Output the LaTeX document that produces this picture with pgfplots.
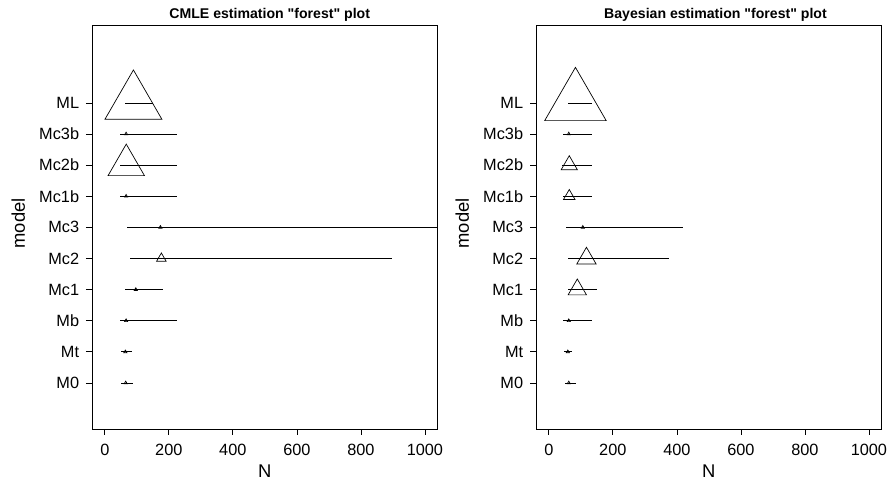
\documentclass[border=0pt]{standalone}
\usepackage{fontspec}
\setmainfont{Liberation Sans}
\usepackage{pgfplots}
\usepackage{pgfplotstable}
\pgfplotsset{compat=1.18}

% y: model position, lo/hi: interval, est: estimate, r: triangle size
\pgfplotstableread{
y lo est hi r
10 63.4 89.4 149.9 32.9
9 47.8 66.5 224.8 1.8
8 47.8 67.0 224.8 21.0
7 47.8 66.5 224.8 1.8
6 68.7 173.7 1100 1.8
5 77.9 176.7 896.2 5.5
4 63.4 96.8 181.1 1.8
3 47.8 66.5 224.8 1.8
2 50.9 64.2 85.2 1.8
1 50.9 65.3 87.3 1.8
}\cmle

\pgfplotstableread{
y lo est hi r
10 59.4 83.2 134.4 35.5
9 45.7 62.4 136.3 1.8
8 40.6 63.9 136.3 9.4
7 45.7 63.9 136.3 6.7
6 53.1 106.2 419.7 1.8
5 59.4 117.6 375.0 11.2
4 59.4 89.0 151.6 10.6
3 45.7 62.4 136.3 1.8
2 48.9 59.4 72.8 1.8
1 52.1 62.4 84.4 1.8
}\bayes

\pgfplotsset{forest/.style={
  scale only axis, width=345.7pt, height=403.3pt,
  xmin=-40, xmax=1040, ymin=-0.48, ymax=12.48,
  xtick={0,200,...,1000}, ytick={1,...,10},
  yticklabels={M0,Mt,Mb,Mc1,Mc2,Mc3,Mc1b,Mc2b,Mc3b,ML},
  xtick pos=left, ytick pos=left, tick align=outside, major tick length=6pt,
  tick style={black, line width=0.7pt},
  axis line style={line width=0.8pt},
  ticklabel style={font=\fontsize{16.3}{18}\selectfont},
  /pgf/number format/assume math mode=true,
  /pgf/number format/1000 sep={},
  xticklabel style={inner sep=0pt, yshift=-9pt},
  yticklabel style={inner sep=0pt, xshift=-6.7pt},
  xlabel={N}, ylabel={model},
  label style={font=\fontsize{18.4}{20}\selectfont},
  xlabel style={at={(axis description cs:0.5,0)}, anchor=north, inner sep=0pt, yshift=-36pt},
  ylabel style={at={(axis description cs:-0.213,0.51)}, anchor=center, inner sep=0pt},
}}

\begin{document}
\begin{tikzpicture}
\path[use as bounding box] (0,0) rectangle (893pt,484pt);

\begin{axis}[forest, at={(92pt,55pt)}, anchor=south west]
\addplot[draw=none, mark=none, forget plot,
  error bars/.cd, x dir=both, x explicit, error mark=none,
  error bar style={draw=black, line width=0.7pt, solid}]
  table[x=est, y=y, x error plus expr=\thisrow{hi}-\thisrow{est}, x error minus expr=\thisrow{est}-\thisrow{lo}] {\cmle};
\addplot[black, only marks, mark=triangle, line width=0.7pt,
  scatter, point meta=explicit,
  visualization depends on={\thisrow{r} \as \rsize},
  scatter/@pre marker code/.code={\scope[mark size=\rsize]},
  scatter/@post marker code/.code={\endscope}]
  table[x=est, y=y, meta=r] {\cmle};
\end{axis}

\begin{axis}[forest, at={(536pt,55pt)}, anchor=south west]
\addplot[draw=none, mark=none, forget plot,
  error bars/.cd, x dir=both, x explicit, error mark=none,
  error bar style={draw=black, line width=0.7pt, solid}]
  table[x=est, y=y, x error plus expr=\thisrow{hi}-\thisrow{est}, x error minus expr=\thisrow{est}-\thisrow{lo}] {\bayes};
\addplot[black, only marks, mark=triangle, line width=0.7pt,
  scatter, point meta=explicit,
  visualization depends on={\thisrow{r} \as \rsize},
  scatter/@pre marker code/.code={\scope[mark size=\rsize]},
  scatter/@post marker code/.code={\endscope}]
  table[x=est, y=y, meta=r] {\bayes};
\end{axis}

\node[font=\bfseries\fontsize{14.1}{16}\selectfont, anchor=base] at (269.7pt,465.7pt) {CMLE estimation \textquotedbl forest\textquotedbl{} plot};
\node[font=\bfseries\fontsize{14.1}{16}\selectfont, anchor=base] at (715.5pt,465.7pt) {Bayesian estimation \textquotedbl forest\textquotedbl{} plot};
\end{tikzpicture}
\end{document}
